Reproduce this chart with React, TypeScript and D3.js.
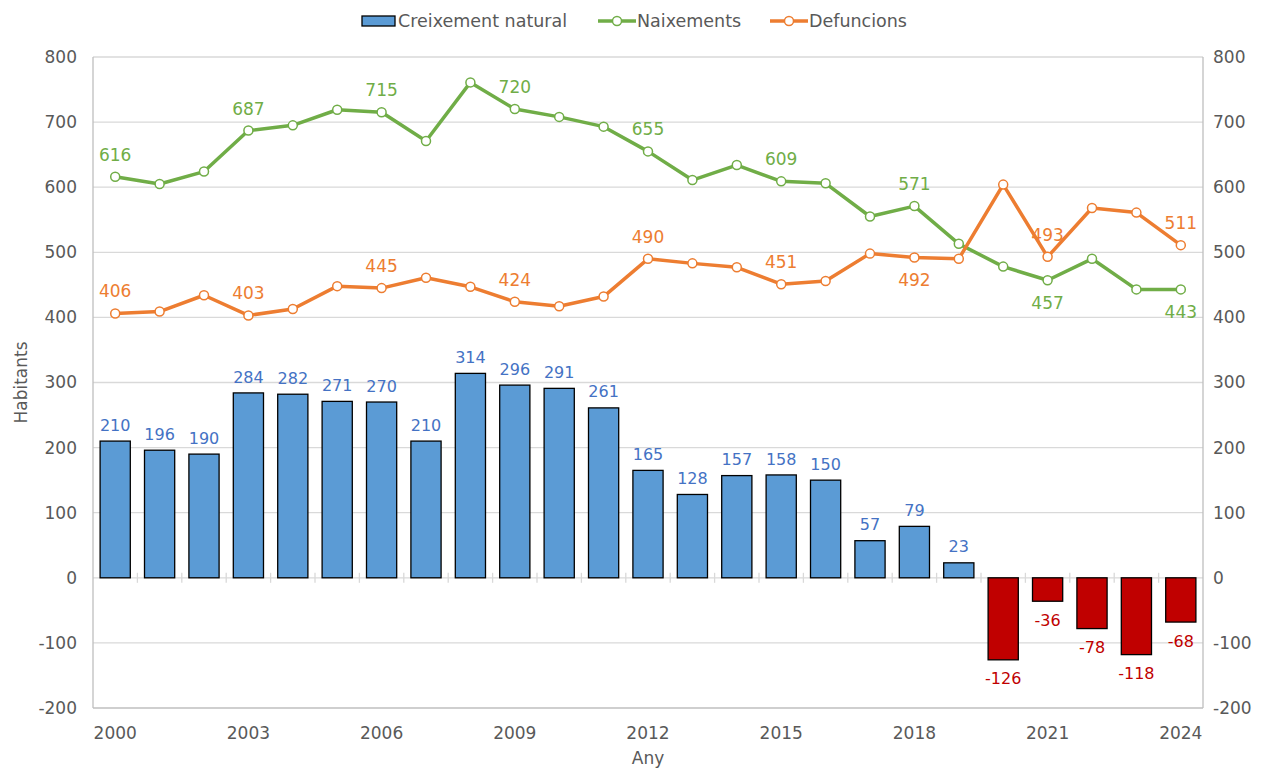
import React from "react";
import * as d3 from "d3";

const years = [2000,2001,2002,2003,2004,2005,2006,2007,2008,2009,2010,2011,2012,2013,2014,2015,2016,2017,2018,2019,2020,2021,2022,2023,2024];
const births = [616,605,624,687,695,719,715,671,761,720,708,693,655,611,634,609,606,555,571,513,478,457,490,443,443];
const deaths = [406,409,434,403,413,448,445,461,447,424,417,432,490,483,477,451,456,498,492,490,604,493,568,561,511];
const growth = [210,196,190,284,282,271,270,210,314,296,291,261,165,128,157,158,150,57,79,23,-126,-36,-78,-118,-68];
const yTicks = [-200,-100,0,100,200,300,400,500,600,700,800];
const xTickYears = [2000,2003,2006,2009,2012,2015,2018,2021,2024];
const birthLabelYears = [2000,2003,2006,2009,2012,2015,2018,2021,2024];
const birthBelow = [2021,2024];
const deathLabelYears = [2000,2003,2006,2009,2012,2015,2018,2021,2024];
const deathBelow = [2018];

const FONT = "'DejaVu Sans', Verdana, sans-serif";
const FS = 17;

export default function App() {
  const W = 1265, H = 769;
  const left = 93, right = 1203, top = 57, bottom = 708;
  const x = d3.scaleBand<number>().domain(years).range([left, right]).paddingInner(0.32).paddingOuter(0.16);
  const y = d3.scaleLinear().domain([-200, 800]).range([bottom, top]);
  const step = x.step();
  const cx = (yr: number) => (x(yr) as number) + x.bandwidth() / 2;
  const line = d3.line<number>().x((_, i) => cx(years[i])).y(v => y(v));
  const grid = "#d9d9d9";
  const axisC = "#bfbfbf";
  const textC = "#595959";
  const green = "#70ad47", orange = "#ed7d31";

  return (
    <svg width={W} height={H} style={{ display: "block", position: "absolute", left: 0, top: 0, background: "#fff" }} fontFamily={FONT}>
      {yTicks.map(t => (
        <line key={t} x1={left} x2={right} y1={y(t)} y2={y(t)} stroke={t === -200 ? axisC : grid} strokeWidth={1.3} />
      ))}
      <line x1={left} x2={left} y1={top} y2={bottom} stroke={axisC} strokeWidth={1.3} />
      <line x1={right} x2={right} y1={top} y2={bottom} stroke={axisC} strokeWidth={1.3} />
      {years.slice(1).map(yr => {
        const bx = left + step * years.indexOf(yr);
        return <line key={yr} x1={bx} x2={bx} y1={y(0) - 5} y2={y(0) + 5} stroke={grid} strokeWidth={1.3} />;
      })}
      {yTicks.map(t => (
        <g key={t}>
          <text x={left - 16} y={y(t)} dy="0.35em" textAnchor="end" fontSize={FS} fill={textC}>{t}</text>
          <text x={right + 10} y={y(t)} dy="0.35em" textAnchor="start" fontSize={FS} fill={textC}>{t}</text>
        </g>
      ))}
      {xTickYears.map(yr => (
        <text key={yr} x={cx(yr)} y={733} dy="0.35em" textAnchor="middle" fontSize={FS} fill={textC}>{yr}</text>
      ))}
      <text x={648} y={758} dy="0.35em" textAnchor="middle" fontSize={FS} fill={textC}>Any</text>
      <text transform={`translate(21,${(top + bottom) / 2}) rotate(-90)`} dy="0.35em" textAnchor="middle" fontSize={FS} fill={textC}>Habitants</text>
      {years.map((yr, i) => {
        const v = growth[i];
        const y0 = y(Math.max(0, v)), y1 = y(Math.min(0, v));
        return (
          <rect key={yr} x={x(yr)} y={y0} width={x.bandwidth()} height={y1 - y0}
            fill={v >= 0 ? "#5b9bd5" : "#c00000"} stroke="#000" strokeWidth={1.3} />
        );
      })}
      {years.map((yr, i) => {
        const v = growth[i];
        return (
          <text key={yr} x={cx(yr)} y={v >= 0 ? y(v) - 16 : y(v) + 19} dy="0.35em" textAnchor="middle" fontSize={FS - 1}
            fill={v >= 0 ? "#4472c4" : "#c00000"}>{v}</text>
        );
      })}
      <path d={line(births) || ""} fill="none" stroke={green} strokeWidth={3.5} strokeLinejoin="round" />
      <path d={line(deaths) || ""} fill="none" stroke={orange} strokeWidth={3.5} strokeLinejoin="round" />
      {years.map((yr, i) => (
        <circle key={"b" + yr} cx={cx(yr)} cy={y(births[i])} r={4.5} fill="#fff" stroke={green} strokeWidth={1.5} />
      ))}
      {years.map((yr, i) => (
        <circle key={"d" + yr} cx={cx(yr)} cy={y(deaths[i])} r={4.5} fill="#fff" stroke={orange} strokeWidth={1.5} />
      ))}
      {birthLabelYears.map(yr => {
        const i = years.indexOf(yr);
        const below = birthBelow.includes(yr);
        return <text key={"bl" + yr} x={cx(yr)} y={y(births[i]) + (below ? 23 : -22)} dy="0.35em" textAnchor="middle" fontSize={FS} fill={green}>{births[i]}</text>;
      })}
      {deathLabelYears.map(yr => {
        const i = years.indexOf(yr);
        const below = deathBelow.includes(yr);
        return <text key={"dl" + yr} x={cx(yr)} y={y(deaths[i]) + (below ? 23 : -22)} dy="0.35em" textAnchor="middle" fontSize={FS} fill={orange}>{deaths[i]}</text>;
      })}
      <rect x={362} y={16} width={33} height={10} fill="#5b9bd5" stroke="#000" strokeWidth={1.3} />
      <text x={398} y={21} dy="0.35em" fontSize={FS + 0.5} fill={textC}>Creixement natural</text>
      <line x1={598} x2={636} y1={21} y2={21} stroke={green} strokeWidth={3.5} />
      <circle cx={617} cy={21} r={4.5} fill="#fff" stroke={green} strokeWidth={1.5} />
      <text x={637} y={21} dy="0.35em" fontSize={FS + 0.5} fill={textC}>Naixements</text>
      <line x1={770} x2={808} y1={21} y2={21} stroke={orange} strokeWidth={3.5} />
      <circle cx={789} cy={21} r={4.5} fill="#fff" stroke={orange} strokeWidth={1.5} />
      <text x={809} y={21} dy="0.35em" fontSize={FS + 0.5} fill={textC}>Defuncions</text>
    </svg>
  );
}
